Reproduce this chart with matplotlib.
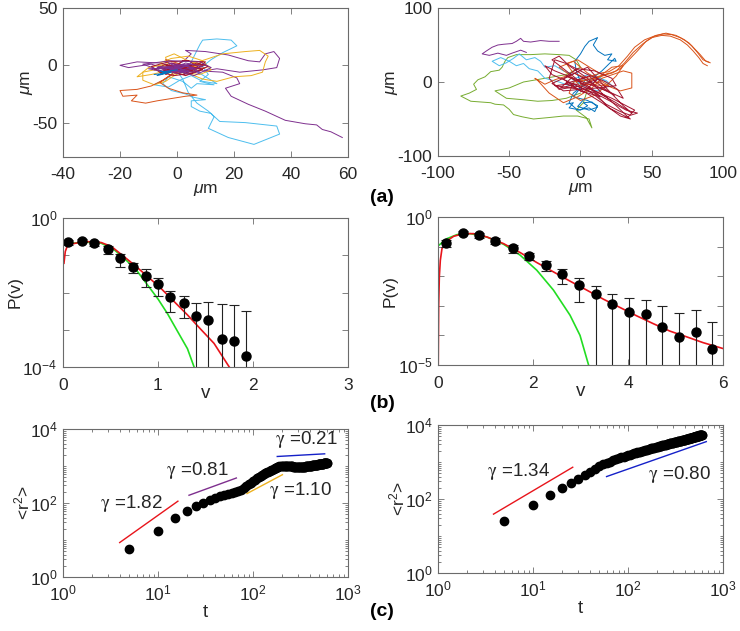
import numpy as np
import matplotlib
matplotlib.use("Agg")
import matplotlib.pyplot as plt
from matplotlib.ticker import LogLocator, NullFormatter, FixedLocator

plt.rcParams['font.family'] = ['Liberation Sans', 'DejaVu Sans']
plt.rcParams['mathtext.fontset'] = 'custom'
plt.rcParams['mathtext.rm'] = 'Liberation Sans'
plt.rcParams['mathtext.it'] = 'Liberation Sans:italic'
plt.rcParams['mathtext.bf'] = 'Liberation Sans:bold'
plt.rcParams['axes.unicode_minus'] = False

# matlab default line colours
C_BLUE = '#0072BD'
C_ORANGE = '#D95319'
C_YELLOW = '#EDB120'
C_PURPLE = '#7E2F8E'
C_GREEN = '#77AC30'
C_CYAN = '#4DBEEE'
C_RED = '#A2142F'

# ---- (a) trajectories, left (um) ----
traj_a1_cyan = [(0, -3), (2, -6), (4, -2), (6, 8), (8, 18), (9, 22), (14, 23), (19, 22), (21, 17), (16, 11),
                (12, 5), (9, -1), (11, -8), (8, -14), (13, -17), (7, -16), (5, -20), (2, -14), (-3, -10),
                (-5, -16), (-2, -22), (3, -25), (6, -28), (10, -30), (5, -31), (5, -36), (8, -40), (12, -42),
                (13, -45), (11, -55), (18, -63), (27, -69), (36, -60), (35, -53), (24, -50), (15, -49),
                (11, -40), (7, -33), (4, -24), (2, -12), (0, -5)]
traj_a1_cyan2 = [(0, -4), (-4, -12), (-8, -17), (-3, -19), (1, -13), (5, -9), (9, -14), (14, -16), (10, -10),
                 (6, -4), (2, -6)]
traj_a1_purple = [(0, -2), (-6, 2), (-14, 3), (-20, 0), (-17, -2), (-9, 1), (-4, -3), (2, 3), (5, 10), (3, 13),
                  (10, 12), (18, 9), (25, 4), (29, 3), (31, 10), (34, 12), (36, 6), (35, -2), (30, -4), (22, -6),
                  (14, -3), (9, -5), (16, -6), (21, -11), (22, -16), (17, -20), (19, -27), (25, -34), (31, -40),
                  (38, -48), (45, -51), (49, -52), (51, -56), (54, -58), (58, -63)]
traj_a1_yellow = [(0, -3), (-3, -7), (-8, -4), (-12, -6), (-12, -13), (-8, -17), (-4, -14), (-1, -9), (3, -4),
                  (6, 2), (10, 5), (16, 10), (24, 12), (29, 13), (32, 8), (31, 3), (30, -6), (26, -9), (20, -10),
                  (14, -14), (9, -12), (5, -8), (1, -5), (-3, -3), (-4, 7), (-1, 10), (3, 5), (8, 0), (4, -3),
                  (0, -1)]
traj_a1_yellow2 = [(-2, -4), (-9, -8), (-14, -10), (-10, -2), (-6, 0), (0, -6), (8, -8), (12, -4), (9, 4),
                   (4, 8), (-2, 6), (-6, 2), (-3, -2)]
traj_a1_orange = [(0, -3), (-2, -8), (-5, -13), (-9, -18), (-14, -21), (-20, -22), (-19, -27), (-14, -26),
                  (-16, -31), (-11, -33), (-7, -31), (-2, -29), (3, -27), (7, -26), (2, -24), (-3, -20), (-6, -15),
                  (-3, -10), (1, -5), (6, 0), (9, 3), (5, -2), (0, 2), (-4, 5), (-2, -1), (3, -4), (10, -2),
                  (6, -6), (0, -2)]
traj_a1_red = [(0, -2), (5, 0), (-3, -5), (6, -6), (-2, 2), (8, -3), (-5, -4), (2, -8), (10, 1), (0, -1),
               (4, -5), (-4, 0), (7, -2), (1, -6), (-2, -3), (3, 0), (-6, -6), (5, -3), (0, -4)]
traj_a1_red2 = [(-8, -4), (-4, 1), (2, -3), (7, 2), (11, -1), (5, -7), (-1, -9), (-6, -6), (-9, -1), (-3, 3),
                (4, 4), (9, -4), (3, -9), (-5, -3), (1, 0), (6, -5), (10, 3), (2, 4), (-4, -8), (0, -2)]
traj_a1_purple2 = [(0, -3), (-6, -1), (4, -6), (-3, 2), (6, -2), (-5, -7), (2, 1), (8, -6), (-2, -5), (4, 0),
                   (-4, -2), (3, -7), (0, -1)]
traj_a1_purple3 = [(2, -2), (-10, -3), (-4, -6), (-12, 1), (-2, 4), (8, 3), (12, -2), (6, -9), (-1, -4), (5, 1),
                   (-7, -2), (0, -7), (9, -1), (3, 2), (-3, -5)]
traj_a1_blue = [(-8, -8), (-4, -7), (-6, -5), (-2, -6), (-7, -9), (-3, -5), (0, -4)]

# ---- (a) trajectories, right (um) ----
traj_a2_green = [(5, -10), (2, -28), (-3, -38), (4, -48), (8, -62), (6, -50), (-2, -46), (-12, -46), (-22, -48),
                 (-33, -50), (-41, -47), (-47, -44), (-50, -37), (-54, -31), (-60, -30), (-63, -28), (-70, -27),
                 (-77, -26), (-84, -19), (-78, -15), (-73, -10), (-75, -3), (-72, 3), (-67, 7), (-63, 14),
                 (-57, 16), (-55, 20), (-53, 28), (-51, 33), (-45, 37), (-35, 37), (-25, 38), (-15, 37),
                 (-8, 36), (-3, 30), (0, 20), (-10, 10), (-25, 5), (-40, 0), (-50, -8), (-60, -12), (-52, -22),
                 (-40, -24), (-30, -26), (-20, -25), (-10, -22), (0, -15)]
traj_a2_purple = [(-15, 55), (-22, 55), (-28, 56), (-35, 54), (-40, 55), (-42, 59), (-45, 55), (-48, 52),
                  (-54, 51), (-58, 50), (-62, 47), (-66, 42), (-69, 38), (-64, 36), (-58, 39), (-52, 36),
                  (-48, 39), (-42, 43), (-38, 40)]
traj_a2_cyan = [(-5, 10), (-12, 15), (-18, 22), (-25, 20), (-28, 28), (-32, 33), (-38, 30), (-43, 38), (-47, 32),
                (-52, 26), (-57, 22), (-62, 28), (-56, 33), (-50, 28), (-45, 22), (-40, 25), (-36, 18),
                (-30, 15), (-25, 5), (-15, 0), (-8, -5), (-3, 2)]
traj_a2_cyan2 = [(-10, 2), (-4, -6), (2, 4), (8, -2), (14, 6), (20, -4), (12, -12), (4, -8), (-6, 4), (6, 10),
                 (18, 2), (24, -8)]
traj_a2_blue = [(0, 0), (-3, 15), (-4, 28), (0, 38), (3, 48), (6, 55), (12, 60), (9, 50), (12, 42), (17, 36),
                (22, 38), (19, 30), (25, 28), (24, 32), (15, 15), (5, 0), (-5, -15), (-8, -28), (-2, -38),
                (6, -35), (10, -40), (12, -32), (5, -25), (-5, -20), (0, -8), (3, 2)]
traj_a2_blue2 = [(-10, -30), (-5, -28), (-8, -35), (0, -38), (5, -32), (2, -28), (8, -27), (12, -34), (6, -38),
                 (-2, -33), (3, -22)]
traj_a2_orange = [
    [(0, 0), (8, 5), (15, 9), (22, 12), (28, 18), (34, 30), (40, 42), (46, 55), (52, 62), (58, 65), (64, 64),
     (70, 60), (76, 53), (80, 45), (84, 37), (88, 28), (91, 26)],
    [(2, -2), (10, 4), (18, 10), (25, 15), (31, 26), (37, 40), (44, 52), (50, 60), (57, 63), (63, 62), (70, 57),
     (75, 50), (79, 42), (83, 33), (86, 25), (89, 22)],
    [(-2, 2), (6, 7), (14, 12), (20, 14), (27, 22), (33, 35), (38, 47), (45, 57), (53, 63), (60, 66), (67, 63),
     (73, 57), (78, 49), (82, 40), (86, 30), (90, 27)],
    [(0, 0), (-10, 8), (-18, 3), (-25, -3), (-32, 5), (-30, 2), (-22, -15), (-12, -28), (-2, -20), (8, -8),
     (15, 5), (30, 15), (36, 12), (36, -8), (28, -12), (12, 0), (0, -6), (-8, 10), (-15, 20), (-5, 28),
     (5, 12), (20, -5), (0, -3)],
    [(5, 5), (-5, 12), (-10, 25), (-2, 30), (8, 18), (15, 10), (22, 20), (30, 22), (25, 8), (18, -5),
     (10, -18), (0, -25), (-8, -15), (-5, 0), (10, 5), (20, 12)],
]
traj_a2_red = [(0, 0), (-12, 18), (-20, 30), (-15, 35), (-8, 22), (5, 5), (15, -15), (25, -32), (32, -45),
               (35, -50), (28, -46), (15, -28), (0, -10), (-18, -5), (-5, -2), (10, -12), (22, -22), (38, -38),
               (33, -48), (20, -35), (5, -5), (-10, 8), (-2, 18), (10, 15), (22, 5), (25, -5), (12, -8),
               (-12, -12), (-20, -2), (5, 20), (15, -2), (30, -32), (36, -42), (25, -28), (8, -10), (0, -2)]
traj_a2_red2 = [(-5, 5), (-18, 15), (-25, 22), (-20, 10), (-8, 0), (8, -15), (18, -30), (28, -40), (35, -45),
                (40, -42), (32, -38), (20, -25), (10, -15), (-2, -6), (-15, -10), (-22, 5), (-18, 30), (-10, 25),
                (5, 10), (18, 0), (26, -10), (30, -22), (22, -15), (5, -2)]
traj_a2_red3 = [(-3, -3), (-14, -8), (-6, 6), (4, -2), (12, 4), (2, -14), (-10, -2), (6, 8), (16, -8),
                (24, -18), (10, -4), (-4, 12), (-12, 4), (0, -12), (14, -20), (6, -6)]

# ---- (b) speed distributions ----
v_b1 = [0.05, 0.2, 0.33, 0.47, 0.6, 0.74, 0.87, 1.0, 1.13, 1.27, 1.4, 1.53, 1.67, 1.8, 1.93]
p_b1 = [0.221, 0.245, 0.212, 0.146, 0.0834, 0.0497, 0.0284, 0.0170, 0.00741, 0.00510, 0.00232, 0.00181,
        0.000581, 0.000492, 0.000194]
p_b1_hi = [0.255, 0.272, 0.245, 0.179, 0.107, 0.0637, 0.0421, 0.0251, 0.0112, 0.00805, 0.0051, 0.00566,
           0.0048, 0.00465, 0.00317]
p_b1_lo = [0.191, 0.221, 0.179, 0.107, 0.0497, 0.0329, 0.01436, 0.00822, 0.00292, 0.00201, 1e-9, 1e-9,
           1e-9, 1e-9, 1e-9]
red_b1_v = [0.01, 0.024, 0.05, 0.227, 0.40, 0.51, 0.61, 0.75, 0.89, 1.03, 1.17, 1.31, 1.45, 1.59, 1.75, 1.85]
red_b1_p = [0.061, 0.126, 0.191, 0.235, 0.22, 0.172, 0.107, 0.055, 0.027, 0.013, 0.0057, 0.0025, 0.00103,
            0.00043, 1e-4, 5e-5]
green_b1_v = [0.0, 0.227, 0.40, 0.54, 0.68, 0.785, 0.89, 1.0, 1.1, 1.2, 1.31, 1.38, 1.45]
green_b1_p = [0.199, 0.225, 0.212, 0.14, 0.068, 0.0363, 0.0159, 0.0067, 0.0027, 0.00096, 0.00031, 1e-4, 3e-5]

v_b2 = [0.175, 0.525, 0.854, 1.204, 1.569, 1.926, 2.269, 2.619, 2.969, 3.319, 3.669, 4.02, 4.37, 4.72, 5.07,
        5.43, 5.77]
p_b2 = [0.133, 0.296, 0.241, 0.155, 0.0902, 0.0485, 0.0235, 0.01167, 0.00524, 0.00241, 0.00117, 0.000628,
        0.000510, 0.000186, 8.57e-5, 1.33e-4, 3.37e-5]
p_b2_hi = [0.168, 0.337, 0.281, 0.196, 0.111, 0.061, 0.0329, 0.0172, 0.00879, 0.00472, 0.0026, 0.00186,
           0.00155, 0.001, 0.00055, 0.00073, 0.000289]
p_b2_lo = [0.1, 0.26, 0.201, 0.12, 0.061, 0.0346, 0.0151, 0.00537, 0.00136, 1e-9, 1e-9, 1e-9, 1e-9, 1e-9,
           1e-9, 1e-9, 1e-9]
red_b2_v = [0.005, 0.014, 0.028, 0.049, 0.084, 0.175, 0.33, 0.54, 0.75, 1.03, 1.38, 1.73, 2.08, 2.43, 2.78,
            3.13, 3.48, 3.83, 4.18, 4.53, 4.88, 5.23, 5.58, 6.0]
red_b2_p = [1e-5, 0.00105, 0.0095, 0.0345, 0.0857, 0.151, 0.223, 0.274, 0.274, 0.211, 0.126, 0.0628, 0.0289,
            0.014, 0.0068, 0.0034, 0.00168, 8.8e-4, 4.6e-4, 2.5e-4, 1.4e-4, 9.0e-5, 5.7e-5, 3.6e-5]
green_b2_v = [0.0, 0.19, 0.4, 0.68, 1.03, 1.38, 1.73, 2.08, 2.43, 2.78, 2.99, 3.17, 3.3]
green_b2_p = [0.105, 0.186, 0.254, 0.274, 0.211, 0.12, 0.0513, 0.0159, 0.0034, 4.8e-4, 1.0e-4, 1e-5, 3e-6]

# ---- (c) mean square displacement ----
t_c = list(range(5, 605, 5))
r2_c1 = [5.65, 17.9, 38.4, 61.6, 82, 103, 124, 138, 152, 165, 175, 187, 200, 214, 230, 255, 285, 320, 355, 395,
         430, 465, 505, 540, 575, 610, 640, 670, 700, 730, 760, 800, 835, 865, 895, 925, 950, 970, 985, 995,
         1000, 1000, 995, 990, 985, 985, 980, 980, 975, 975, 970, 970, 965, 960, 955, 950, 945, 940, 935, 935,
         930, 930, 930, 930, 935, 935, 940, 945, 950, 960, 965, 975, 985, 990, 995, 1000, 1000, 1005, 1010, 1015,
         1020, 1025, 1030, 1035, 1040, 1045, 1050, 1055, 1060, 1065, 1070, 1075, 1080, 1085, 1090, 1095, 1100,
         1105, 1110, 1115, 1120, 1125, 1130, 1135, 1140, 1145, 1150, 1155, 1160, 1165, 1170, 1175, 1180, 1185,
         1190, 1195, 1200, 1205, 1210, 1215]
r2_c2 = [24.7, 69.6, 129, 204, 267, 350, 440, 540, 650, 760, 869, 950, 1030, 1110, 1190, 1270, 1340, 1400, 1460,
         1520, 1580, 1640, 1700, 1760, 1820, 1870, 1920, 1970, 2020, 2070, 2120, 2170, 2220, 2270, 2320, 2370,
         2420, 2460, 2500, 2545, 2590, 2635, 2680, 2725, 2770, 2810, 2850, 2890, 2930, 2970, 3010, 3050, 3090,
         3130, 3170, 3206, 3240, 3275, 3310, 3345, 3380, 3415, 3450, 3485, 3520, 3555, 3590, 3625, 3660, 3695,
         3730, 3765, 3800, 3835, 3870, 3905, 3940, 3975, 4010, 4045, 4080, 4120, 4160, 4200, 4235, 4270, 4305,
         4340, 4375, 4410, 4445, 4480, 4515, 4550, 4585, 4620, 4655, 4690, 4725, 4760, 4795, 4830, 4865, 4900,
         4935, 4970, 5005, 5040, 5075, 5110, 5145, 5180, 5215, 5250, 5285, 5320, 5355, 5390, 5425, 5495]

# fitted power-law segments: (t0, t1), (r0, r1), colour, label, label position
fits_c1 = [((3.95, 16.2), (8.53, 112), '#E8141B', r'$\mathrm{\gamma}$ =1.82', (2.43, 97)),
           ((21.2, 66.8), (162, 474), C_PURPLE, r'$\mathrm{\gamma}$ =0.81', (12.0, 760)),
           ((86.5, 204), (180, 582), C_YELLOW, r'$\mathrm{\gamma}$ =1.10', (147, 221)),
           ((180, 568), (1808, 2133), '#1420C8', r'$\mathrm{\gamma}$ =0.21', (169, 5150))]
fits_c2 = [((3.84, 26.2), (39, 722), '#E8141B', r'$\mathrm{\gamma}$ =1.34', (3.27, 552)),
           ((59.5, 667), (404, 3554), '#1420C8', r'$\mathrm{\gamma}$ =0.80', (163, 448))]

W, H = 740, 631
fig = plt.figure(figsize=(W / 100, H / 100), dpi=100)
fig.patch.set_facecolor('white')

def px_axes(x0, y0, x1, y1):
    return fig.add_axes([x0 / W, 1 - y1 / H, (x1 - x0) / W, (y1 - y0) / H])

SPINE = '#6b6b6b'
TXT = '#262626'
FS = 12.5

def style(ax, xpad=7):
    for s in ax.spines.values():
        s.set_color(SPINE)
        s.set_linewidth(0.8)
    ax.tick_params(which='both', direction='in', top=True, right=True, color=SPINE,
                   labelcolor=TXT, labelsize=FS, width=0.6)
    ax.tick_params(which='major', length=4)
    ax.tick_params(axis='x', which='major', pad=xpad)
    ax.tick_params(axis='y', which='major', pad=4)
    ax.tick_params(which='minor', length=2)

ax_a1 = px_axes(63, 8, 348, 157)
ax_a2 = px_axes(438, 8, 723, 156)
ax_b1 = px_axes(63, 218, 348, 367)
ax_b2 = px_axes(438, 217, 723, 365)
ax_c1 = px_axes(63, 429, 348, 577)
ax_c2 = px_axes(438, 425, 723, 573)

# ---- (a) ----
for tr, c in [(traj_a1_cyan, C_CYAN), (traj_a1_cyan2, C_CYAN), (traj_a1_purple, C_PURPLE),
              (traj_a1_yellow, C_YELLOW), (traj_a1_yellow2, C_YELLOW), (traj_a1_orange, C_ORANGE),
              (traj_a1_red, C_RED), (traj_a1_red2, C_RED), (traj_a1_purple2, C_PURPLE),
              (traj_a1_purple3, C_PURPLE), (traj_a1_blue, C_BLUE)]:
    xy = np.array(tr)
    ax_a1.plot(xy[:, 0], xy[:, 1], color=c, lw=0.7)
ax_a1.set_xlim(-40, 60)
ax_a1.set_ylim(-80, 50)
ax_a1.set_xticks([-40, -20, 0, 20, 40, 60])
ax_a1.set_yticks([-50, 0, 50])

for tr, c in ([(traj_a2_green, C_GREEN), (traj_a2_purple, C_PURPLE), (traj_a2_cyan, C_CYAN),
               (traj_a2_cyan2, C_CYAN), (traj_a2_blue, C_BLUE), (traj_a2_blue2, C_BLUE)]
              + [(o, C_ORANGE) for o in traj_a2_orange]
              + [(traj_a2_red, C_RED), (traj_a2_red2, C_RED), (traj_a2_red3, C_RED)]):
    xy = np.array(tr)
    ax_a2.plot(xy[:, 0], xy[:, 1], color=c, lw=0.7)
ax_a2.set_xlim(-100, 100)
ax_a2.set_ylim(-100, 100)
ax_a2.set_xticks([-100, -50, 0, 50, 100])
ax_a2.set_yticks([-100, 0, 100])

for ax in (ax_a1, ax_a2):
    style(ax)
    ax.set_xlabel(r'$\mu$m', fontsize=FS, color=TXT, labelpad=0)
    ax.set_ylabel(r'$\mu$m', fontsize=FS, color=TXT, labelpad=-2)

# ---- (b) ----
def speed_panel(ax, v, p, hi, lo, rv, rp, gv, gp, ymin, xmax, xt):
    ax.plot(gv, gp, color='#22DD22', lw=1.2)
    ax.plot(rv, rp, color='#E8141B', lw=1.2)
    p = np.array(p)
    err = [p - np.array(lo), np.array(hi) - p]
    ax.errorbar(v, p, yerr=err, fmt='o', color='k', ms=6.5, ecolor='#222222', elinewidth=0.8,
                capsize=3.5, capthick=0.8)
    ax.set_yscale('log')
    ax.set_ylim(ymin, 1)
    ax.set_xlim(0, xmax)
    ax.set_xticks(xt)
    dec = int(round(np.log10(ymin)))
    ax.yaxis.set_major_locator(FixedLocator([10.0 ** k for k in range(dec, 1)]))
    ax.yaxis.set_minor_locator(FixedLocator([]))
    ax.set_yticklabels([r'$10^{%d}$' % k if k in (dec, 0) else '' for k in range(dec, 1)])
    style(ax, xpad=8)
    ax.set_xlabel('v', fontsize=FS + 1, color=TXT, labelpad=-6)
    ax.set_ylabel('P(v)', fontsize=FS, color=TXT, labelpad=0)

speed_panel(ax_b1, v_b1, p_b1, p_b1_hi, p_b1_lo, red_b1_v, red_b1_p, green_b1_v, green_b1_p,
            1e-4, 3, [0, 1, 2, 3])
speed_panel(ax_b2, v_b2, p_b2, p_b2_hi, p_b2_lo, red_b2_v, red_b2_p, green_b2_v, green_b2_p,
            1e-5, 6, [0, 2, 4, 6])

# ---- (c) ----
for ax, r2, fits in [(ax_c1, r2_c1, fits_c1), (ax_c2, r2_c2, fits_c2)]:
    for (ts, rs, c, lab, pos) in fits:
        ax.plot(ts, rs, color=c, lw=1.0)
        ax.text(pos[0], pos[1], lab, fontsize=FS + 1, color=TXT, va='center', ha='left',
                math_fontfamily='stix')
    ax.plot(t_c, r2, 'o', color='k', ms=6)
    ax.set_xscale('log')
    ax.set_yscale('log')
    ax.set_xlim(1, 1000)
    ax.set_ylim(1, 1e4)
    ax.xaxis.set_major_locator(FixedLocator([1, 10, 100, 1000]))
    ax.yaxis.set_major_locator(FixedLocator([1, 100, 1e4]))
    ax.xaxis.set_minor_locator(LogLocator(base=10, subs=np.arange(2, 10), numticks=20))
    ax.yaxis.set_minor_locator(LogLocator(base=10, subs=np.arange(1, 10), numticks=20))
    ax.xaxis.set_minor_formatter(NullFormatter())
    ax.yaxis.set_minor_formatter(NullFormatter())
    style(ax, xpad=5)
    ax.set_xlabel('t', fontsize=FS + 1, color=TXT, labelpad=0)
    ax.set_ylabel(r'<r$^2$>', fontsize=FS, color=TXT, labelpad=-2)

for lab, y in [('(a)', 198), ('(b)', 403), ('(c)', 612)]:
    fig.text(370 / W, 1 - y / H, lab, fontsize=14, fontweight='bold', color='k', va='center', ha='left')

fig.savefig('out.png', dpi=100)
